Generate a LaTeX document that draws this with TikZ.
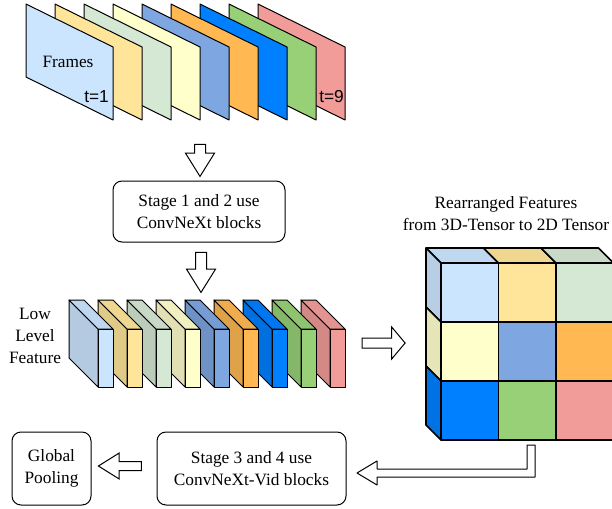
\documentclass[tikz,border=0pt]{standalone}
\usepackage{fontspec}
\setmainfont{Liberation Serif}
\newfontfamily\arialfont{Liberation Sans}
\usepackage{tikz}
\usetikzlibrary{arrows.meta,calc,positioning,shapes.arrows}

% palette of the frames / feature maps
\definecolor{cBlueL}{HTML}{CCE5FF}
\definecolor{cYellow}{HTML}{FFE599}
\definecolor{cGreenL}{HTML}{D5E8D4}
\definecolor{cCream}{HTML}{FFFFCC}
\definecolor{cBlue}{HTML}{7EA6E0}
\definecolor{cOrange}{HTML}{FFB852}
\definecolor{cAzure}{HTML}{007FFF}
\definecolor{cGreen}{HTML}{97D077}
\definecolor{cRed}{HTML}{F19C99}

\begin{document}
\begin{tikzpicture}[
      x=1pt, y=-1pt,
      font=\fontsize{17.3}{22}\selectfont,
      stagebox/.style={rectangle,draw=black,line width=1pt,rounded corners=9pt,fill=white,align=center},
      blockarrow/.style={single arrow,draw=black,line width=1pt,fill=white,inner xsep=0pt,inner ysep=5pt,
        single arrow head indent=0pt,single arrow tip angle=64},
      tlabel/.style={font=\arialfont\fontsize{17.3}{22}\selectfont,anchor=east,inner sep=0pt},
      frame/.style={draw=black,line width=1pt,line join=round},
      slab/.style={draw=black,line width=1pt,line join=round},
      cell/.style={draw=black,line width=1.6pt,line join=round}
    ]
    \useasboundingbox (0,0) rectangle (612,508);

    % input frames, back to front
    \foreach \k/\c in {8/cRed,7/cGreen,6/cAzure,5/cOrange,4/cBlue,3/cCream,2/cGreenL,1/cYellow,0/cBlueL}
      \draw[frame,fill=\c] ({26+29*\k},4) -- ++(87,43) -- ++(0,73) -- ++(-87,-43) -- cycle;
    \node (frames) at (68,62) {Frames};
    \node[tlabel] (t1) at (109,97) {t=1};
    \node[tlabel] (t9) at (344,97) {t=9};

    \node[blockarrow,rotate=-90,minimum height=32,single arrow head extend=9] (down1) at (200,156) {};
    \node[stagebox,minimum width=172,minimum height=61] (stage12) at (199,211.5) {Stage 1 and 2 use\\ConvNeXt blocks};
    \node[blockarrow,rotate=-90,minimum height=40,single arrow head extend=9] (down2) at (201,268) {};

    % low level feature maps, back to front
    \foreach \k/\c in {8/cRed,7/cGreen,6/cAzure,5/cOrange,4/cBlue,3/cCream,2/cGreenL,1/cYellow,0/cBlueL} {
      \coordinate (f\k) at ({98+29*\k},329);
      \draw[slab,fill=\c!88!black] (f\k) ++(-29,-29) -- (f\k) -- ++(0,58) -- ++(-29,-29) -- cycle;
      \draw[slab,fill=\c!94!black] (f\k) ++(-29,-29) -- ++(15,0) -- ++(29,29) -- (f\k) -- cycle;
      \draw[slab,fill=\c] (f\k) rectangle ++(15,58);
    }
    \node[align=center] (lowlevel) at (35,336) {Low\\Level\\Feature};

    \node[blockarrow,minimum height=43,inner ysep=4.5pt,single arrow head extend=11,
      single arrow tip angle=100] (right1) at (381.5,343) {};

    % rearranged 3x3 block
    \node[align=center] (rearr) at (506,214) {Rearranged Features\\from 3D-Tensor to 2D Tensor};
    \foreach \c [count=\j from 0] in {cBlueL,cYellow,cGreenL}
      \draw[cell,fill=\c!94!black] ({441+57.5*\j},263) -- ++(-15,-15) -- ++(57.5,0) -- ++(15,15) -- cycle;
    \foreach \c [count=\i from 0] in {cBlueL,cCream,cAzure}
      \draw[cell,fill=\c!90!black] (441,{263+59*\i}) -- ++(-15,-15) -- ++(0,59) -- ++(15,15) -- cycle;
    \foreach \c [count=\n from 0] in {cBlueL,cYellow,cGreenL,cCream,cBlue,cOrange,cAzure,cGreen,cRed} {
      \pgfmathtruncatemacro{\row}{div(\n,3)}
      \pgfmathtruncatemacro{\col}{mod(\n,3)}
      \draw[cell,fill=\c] ({441+57.5*\col},{263+59*\row}) rectangle ++(57.5,59);
    }
    \coordinate (cubefoot) at (531,445);

    \node[stagebox,minimum width=189,minimum height=73] (stage34) at (251.5,468.5) {Stage 3 and 4 use\\ConvNeXt-Vid blocks};
    \node[stagebox,minimum width=79,minimum height=73] (pool) at (51.5,468.5) {Global\\Pooling};

    % bent return arrow
    \draw[frame,fill=white] (cubefoot) ++(-4,0) -- ++(8,0) -- ++(0,32) -- ++(-158,0) -- ++(0,8)
      -- ++(-20,-12) -- ++(20,-12) -- ++(0,8) -- ++(150,0) -- cycle;
    \node[blockarrow,rotate=180,minimum height=43,inner ysep=4pt,single arrow head extend=8.5] (left1) at (123.5,466) {};
  \end{tikzpicture}
\end{document}
